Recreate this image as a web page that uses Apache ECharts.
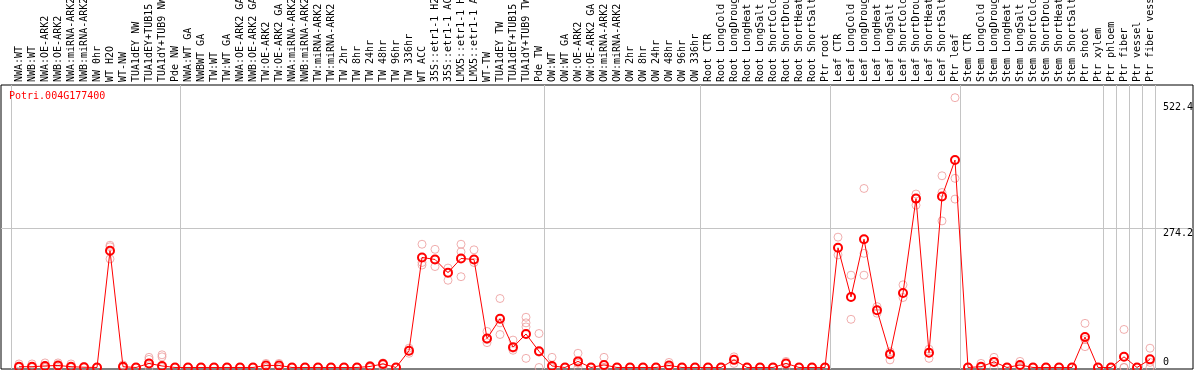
<!DOCTYPE html>
<html>
<head>
<meta charset="utf-8">
<script src="https://cdn.jsdelivr.net/npm/echarts@6/dist/echarts.min.js"></script>
<style>
  html, body { margin: 0; padding: 0; background: #fff; }
  #chart { width: 1194px; height: 370px; }
</style>
</head>
<body>
<div id="chart"></div>
<script>
const geneId = "Potri.004G177400"

// sample names, cut to 14 characters as in the source plot
const categories = [
  "NWA:WT", "NWB:WT", "NWA:OE-ARK2", "NWB:OE-ARK2", "NWA:miRNA-ARK2", "NWB:miRNA-ARK2",
  "NW 0hr", "WT H2O", "WT-NW", "TUA1dEY NW", "TUA1dEY+TUB15", "TUA1dY+TUB9 NW", "Pde NW",
  "NWA:WT GA", "NWBWT GA", "TW:WT", "TW:WT GA", "NWA:OE-ARK2 GA", "NWB:OE-ARK2 GA",
  "TW:OE-ARK2", "TW:OE-ARK2 GA", "NWA:miRNA-ARK2", "NWB:miRNA-ARK2", "TW:miRNA-ARK2",
  "TW:miRNA-ARK2", "TW 2hr", "TW 8hr", "TW 24hr", "TW 48hr", "TW 96hr", "TW 336hr",
  "WT ACC", "35S::etr1-1 H2", "35S::etr1-1 AC", "LMX5::etr1-1 H", "LMX5::etr1-1 A",
  "WT-TW", "TUA1dEY TW", "TUA1dEY+TUB15", "TUA1dY+TUB9 TW", "Pde TW",
  "OW:WT", "OW:WT GA", "OW:OE-ARK2", "OW:OE-ARK2 GA", "OW:miRNA-ARK2", "OW:miRNA-ARK2",
  "OW 2hr", "OW 8hr", "OW 24hr", "OW 48hr", "OW 96hr", "OW 336hr",
  "Root CTR", "Root LongCold", "Root LongDroug", "Root LongHeat", "Root LongSalt",
  "Root ShortCold", "Root ShortDrou", "Root ShortHeat", "Root ShortSalt", "Ptr root",
  "Leaf CTR", "Leaf LongCold", "Leaf LongDroug", "Leaf LongHeat", "Leaf LongSalt",
  "Leaf ShortCold", "Leaf ShortDrou", "Leaf ShortHeat", "Leaf ShortSalt", "Ptr leaf",
  "Stem CTR", "Stem LongCold", "Stem LongDroug", "Stem LongHeat", "Stem LongSalt",
  "Stem ShortCold", "Stem ShortDrou", "Stem ShortHeat", "Stem ShortSalt", "Ptr shoot",
  "Ptr xylem", "Ptr phloem", "Ptr fiber", "Ptr vessel", "Ptr fiber vess",
]

const meanValues = [
  1.5, 1.5, 3, 4, 1.5, 0.5, 0, 230, 1.5, 0, 8, 3, 0,
  0, 0, 0, 0, 0, 0, 4, 4, 0, 0, 0, 0, 0, 0, 2, 7, 0, 33,
  217, 213, 187, 215, 213, 57, 96, 40, 66, 32,
  3, 0, 12, 0, 5, 0, 0, 0, 0, 4, 0, 0,
  0, 0, 15, 0, 0, 0, 8, 0, 0, 0,
  236, 139, 253, 113, 26, 147, 333, 29, 337, 409,
  0, 1.5, 11, 0, 5, 0, 0, 0, 0, 60,
  0, 0, 21, 0, 16,
]

const replicateValues = [
  [7, 0, 0], [7, 0, 0], [9, 0, 0], [9, 3, 0], [7, 0, 0], [2, 0, 0], [0, 0, 0],
  [241, 238, 214], [5, 0, 0], [0, 0, 0], [20, 16, 0], [25, 21, 0], [0, 0, 0],
  [0, 0, 0], [0, 0, 0], [0, 0, 0], [0, 0, 0], [0, 0, 0], [0, 0, 0],
  [8, 0, 0], [8, 0, 0], [0, 0, 0], [0, 0, 0], [0, 0, 0], [0, 0, 0],
  [0, 0, 0], [0, 0, 0], [4, 0, 0], [9, 5, 0], [0, 0, 0], [38, 33, 28],
  [243, 207, 202], [233, 213, 199], [196, 187, 172], [243, 228, 179], [232, 213, 207],
  [71, 55, 49], [136, 88, 65], [54, 38, 34], [99, 88, 80, 18], [67, 30, 0],
  [20, 0, 0], [0, 0, 0], [28, 8, 0], [0, 0, 0], [20, 0, 0], [0, 0, 0],
  [0, 0, 0], [0, 0, 0], [0, 0, 0], [10, 0, 0], [0, 0, 0], [0, 0, 0],
  [0, 0, 0], [0, 0, 0], [21, 15, 8], [0, 0, 0], [0, 0, 0],
  [0, 0, 0], [12, 8, 0], [0, 0, 0], [0, 0, 0], [0, 0, 0],
  [257, 236, 222], [182, 139, 95], [353, 225, 182], [120, 113, 107], [31, 26, 15],
  [163, 147, 138], [342, 333, 320], [36, 29, 18], [378, 345, 289], [532, 373, 332],
  [0, 0, 0], [8, 0, 0], [20, 11, 0], [0, 0, 0], [12, 2, 0],
  [0, 0, 0], [0, 0, 0], [0, 0, 0], [0, 0, 0], [87, 55, 41],
  [0, 0, 0], [0, 0, 0], [75, 0, 0], [0, 0, 0], [38, 10, 0],
]

// index of the last sample in each group (-1 = left edge)
const groupEnds = [-1, 12, 40, 52, 62, 72, 83, 84, 85, 86, 87]

const yTickLabels = [274.2, 522.4]
const yZeroLabel = [0]

const chart = echarts.init(document.getElementById("chart"))
const mono = "DejaVu Sans Mono"
const xMin = -18 / 13
const xMax = xMin + 1192 / 13
const yMin = -3
const yMax = 557

const option = {
  animation: false,
  title: {
    text: geneId,
    left: 9,
    top: 91,
    padding: 0,
    textStyle: { color: "#ff0000", fontFamily: mono, fontSize: 10, fontWeight: "normal" },
  },
  grid: {
    left: 1,
    right: 1,
    top: 85,
    bottom: 1,
    containLabel: false,
    outerBoundsMode: "none",
    show: true,
    borderColor: "#000",
    borderWidth: 1,
    backgroundColor: "transparent",
  },
  xAxis: {
    type: "value",
    position: "top",
    min: xMin,
    max: xMax,
    axisLine: { show: false },
    axisTick: {
      show: true,
      length: 85,
      customValues: groupEnds.map((i) => i + 0.4),
      lineStyle: { color: "#c4c4c4" },
    },
    splitLine: { show: true, lineStyle: { color: "#c4c4c4" } },
    axisLabel: {
      customValues: categories.map((_, i) => i),
      rotate: 90,
      margin: 3,
      formatter: (v) => categories[Math.round(v)],
      fontFamily: mono,
      fontSize: 10,
      color: "#000",
    },
  },
  yAxis: [
    {
      type: "value",
      position: "right",
      min: yMin,
      max: yMax,
      axisLine: { show: false },
      axisTick: { show: false, customValues: [yTickLabels[0]] },
      splitLine: { show: true, lineStyle: { color: "#c4c4c4" } },
      axisLabel: {
        inside: true,
        customValues: yTickLabels,
        align: "left",
        verticalAlign: "top",
        margin: 30,
        fontFamily: mono,
        fontSize: 10,
        color: "#000",
      },
    },
    {
      type: "value",
      position: "right",
      min: yMin,
      max: yMax,
      axisLine: { show: false },
      axisTick: { show: false },
      splitLine: { show: false },
      axisLabel: {
        inside: true,
        customValues: yZeroLabel,
        align: "left",
        verticalAlign: "bottom",
        margin: 30,
        fontFamily: mono,
        fontSize: 10,
        color: "#000",
      },
    },
  ],
  series: [
    {
      name: "replicates",
      type: "scatter",
      symbol: "circle",
      symbolSize: 8,
      data: replicateValues.flatMap((reps, i) => reps.map((v) => [i, v])),
      itemStyle: { color: "transparent", borderColor: "#ec9a9a", borderWidth: 1 },
      emphasis: { disabled: true },
    },
    {
      name: "mean",
      type: "line",
      symbol: "circle",
      symbolSize: 8,
      data: meanValues.map((v, i) => [i, v]),
      lineStyle: { color: "#ff0000", width: 1 },
      itemStyle: { color: "transparent", borderColor: "#ff0000", borderWidth: 2 },
      emphasis: { disabled: true },
    },
  ],
}

chart.setOption(option)
</script>
</body>
</html>
